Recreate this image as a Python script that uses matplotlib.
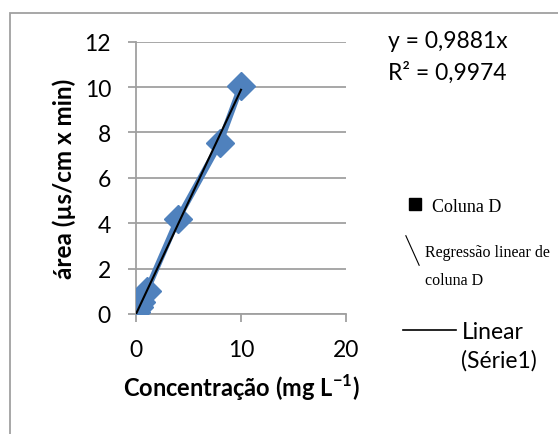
import matplotlib.pyplot as plt
from matplotlib.lines import Line2D
from matplotlib.patches import Rectangle
from matplotlib.path import Path

plt.rcParams['mathtext.fontset'] = 'custom'
plt.rcParams['mathtext.rm'] = 'Lato'
plt.rcParams['mathtext.bf'] = 'Lato:bold'

# dados da curva de calibração
conc = [0, 0.25, 0.5, 1, 4, 8, 10]
area = [0.1, 0.3, 0.55, 1.0, 4.2, 7.55, 10.05]
coef = 0.9881
r2 = 0.9974
x_ticks = [0, 10, 20]
y_ticks = [0, 2, 4, 6, 8, 10, 12]

azul = '#4F81BD'
cinza = '#A0A0A0'

fig = plt.figure(figsize=(5.58, 4.35), dpi=100)
ax = fig.add_axes([136 / 558, 1 - 315 / 435, 210 / 558, (315 - 42.7) / 435])

ax.plot(conc, area, color=azul, lw=4.5, marker='D', ms=14, mec=azul, mfc=azul, zorder=3)
xt = [0, max(conc)]
ax.plot(xt, [coef * v for v in xt], color='black', lw=1.5, zorder=4)

ax.set_xlim(0, 20)
ax.set_ylim(0, 12)
ax.set_xticks(x_ticks)
ax.set_yticks(y_ticks)
ax.grid(axis='y', color=cinza, lw=1.3)
ax.set_axisbelow(True)
for s in ['top', 'right']:
    ax.spines[s].set_visible(False)
for s in ['left', 'bottom']:
    ax.spines[s].set_color(cinza)
    ax.spines[s].set_linewidth(1.3)
ax.tick_params(axis='both', color=cinza, width=1.3, length=6, labelsize=16.5)
ax.tick_params(axis='y', pad=12)
ax.tick_params(axis='x', pad=12)
for t in ax.get_xticklabels() + ax.get_yticklabels():
    t.set_fontfamily('Lato')

ax.set_xlabel(r'Concentração (mg L$^{\mathbf{-1}}$)', fontsize=17, fontweight='bold',
              fontfamily='Lato', labelpad=8)
ax.set_ylabel('área (µs/cm x min)', fontsize=17.5, fontweight='bold',
              fontfamily='Lato', labelpad=6)

fig.text(388 / 558, 1 - 42 / 435, f'y = {coef:.4f}x'.replace('.', ','),
         fontsize=16.5, fontfamily='Lato', va='center')
fig.text(388 / 558, 1 - 73 / 435, f'R² = {r2:.4f}'.replace('.', ','),
         fontsize=16.5, fontfamily='Lato', va='center')

# legendas (a segunda linha de cada rótulo vai sem símbolo)
vazio = Line2D([], [], ls='none')
h1 = Line2D([], [], ls='none', marker='s', color='black', ms=8)
leg1 = fig.legend([h1], ['Coluna D'], loc='center left', bbox_to_anchor=(405 / 558, 1 - 207 / 435),
                  frameon=False, prop={'family': 'Liberation Serif', 'size': 13},
                  handlelength=1.1, handletextpad=0.4, borderpad=0, borderaxespad=0)
barra = Path([(-0.45, 1), (0.45, -1)], [Path.MOVETO, Path.LINETO])
h2 = Line2D([], [], ls='none', marker=barra, color='black', ms=22, mew=0.8)
leg2 = fig.legend([h2, vazio], ['Regressão linear de', 'coluna D'], loc='center left',
                  bbox_to_anchor=(403 / 558, 1 - 267 / 435),
                  frameon=False, prop={'family': 'Liberation Serif', 'size': 11.5},
                  handlelength=1.1, handletextpad=0.3, borderpad=0, borderaxespad=0,
                  labelspacing=0.8)
h3 = Line2D([], [], color='black', lw=1.2)
leg3 = fig.legend([h3, vazio], ['Linear', '(Série1)'], loc='center left',
                  bbox_to_anchor=(403 / 558, 1 - 347 / 435),
                  frameon=False, prop={'family': 'Lato', 'size': 16.5},
                  handlelength=2.3, handletextpad=0.25, borderpad=0, borderaxespad=0,
                  labelspacing=0.3)

fig.add_artist(Rectangle((10 / 558, -0.1), 1.2, 1 - 14 / 435 + 0.1,
                         transform=fig.transFigure, fill=False, ec=cinza, lw=1.3))

fig.savefig('out.png', dpi=100)
